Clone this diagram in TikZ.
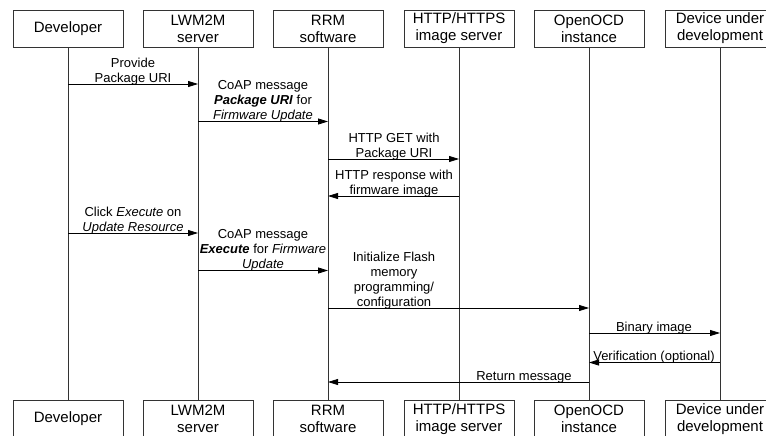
\documentclass[tikz,border=0pt]{standalone}
\usepackage{fontspec}
\setmainfont{Liberation Sans}
\usetikzlibrary{arrows.meta}
\tikzset{
  actor/.style={draw=black!80, line width=0.8pt, minimum width=110pt, minimum height=37pt,
    inner sep=0pt, align=center, font={\fontsize{15}{17}\selectfont}},
  life/.style={draw=black!80, line width=0.8pt},
  msg/.style={draw=black, line width=0.8pt, -{Triangle[length=10pt,width=6pt]}},
  lbl/.style={anchor=south, inner sep=0pt, yshift=-1pt, align=center, font={\fontsize{13}{15}\selectfont}}
}
\begin{document}
\begin{tikzpicture}[x=1pt,y=-1pt]
\useasboundingbox (0,0) rectangle (766,436);
% top boxes
\node[actor] (dev) at (68,28.5) {Developer};
\node[actor] (lwm) at (198,28.5) {LWM2M\\server};
\node[actor] (rrm) at (328,28.5) {RRM\\software};
\node[actor] (http) at (459,28.5) {HTTP/HTTPS\\image server};
\node[actor] (ocd) at (589,28.5) {OpenOCD\\instance};
\node[actor] (dud) at (720,28.5) {Device under\\development};
% bottom boxes
\node[actor] (devB) at (68,419) {Developer};
\node[actor] (lwmB) at (198,419) {LWM2M\\server};
\node[actor] (rrmB) at (328,419) {RRM\\software};
\node[actor] (httpB) at (459,419) {HTTP/HTTPS\\image server};
\node[actor] (ocdB) at (589,419) {OpenOCD\\instance};
\node[actor] (dudB) at (720,419) {Device under\\development};
% lifelines
\draw[life] (dev.south) -- (devB.north);
\draw[life] (lwm.south) -- (lwmB.north);
\draw[life] (rrm.south) -- (rrmB.north);
\draw[life] (http.south) -- (httpB.north);
\draw[life] (ocd.south) -- (ocdB.north);
\draw[life] (dud.south) -- (dudB.north);
% message levels
\coordinate (y1) at (0,84);
\coordinate (y2) at (0,121.5);
\coordinate (y3) at (0,159);
\coordinate (y4) at (0,196);
\coordinate (y5) at (0,233);
\coordinate (y6) at (0,270.5);
\coordinate (y7) at (0,308);
\coordinate (y8) at (0,333);
\coordinate (y9) at (0,362.5);
\coordinate (y10) at (0,382);
% messages
\draw[msg] (dev |- y1) -- (lwm |- y1);
\node[lbl] (l1) at (133,84) {Provide\\Package URI};
\draw[msg] (lwm |- y2) -- (rrm |- y2);
\node[lbl] (l2) at (263,121.5) {CoAP message\\\textbf{\textit{Package URI}} for\\\textit{Firmware Update}};
\draw[msg] (rrm |- y3) -- (http |- y3);
\node[lbl] (l3) at (394,159) {HTTP GET with\\Package URI};
\draw[msg] (http |- y4) -- (rrm |- y4);
\node[lbl] (l4) at (394,196) {HTTP response with\\firmware image};
\draw[msg] (dev |- y5) -- (lwm |- y5);
\node[lbl] (l5) at (133,233) {Click \textit{Execute} on\\\textit{Update Resource}};
\draw[msg] (lwm |- y6) -- (rrm |- y6);
\node[lbl] (l6) at (263,270.5) {CoAP message\\\textbf{\textit{Execute}} for \textit{Firmware}\\\textit{Update}};
\draw[msg] (rrm |- y7) -- (ocd |- y7);
\node[lbl] (l7) at (394,308) {Initialize Flash\\memory\\programming/\\configuration};
\draw[msg] (ocd |- y8) -- (dud |- y8);
\node[lbl] (l8) at (654,333) {Binary image};
\draw[msg] (dud |- y9) -- (ocd |- y9);
\node[lbl] (l9) at (654,362.5) {Verification (optional)};
\draw[msg] (ocd |- y10) -- (rrm |- y10);
\node[lbl] (l10) at (524,382) {Return message};
\end{tikzpicture}
\end{document}
